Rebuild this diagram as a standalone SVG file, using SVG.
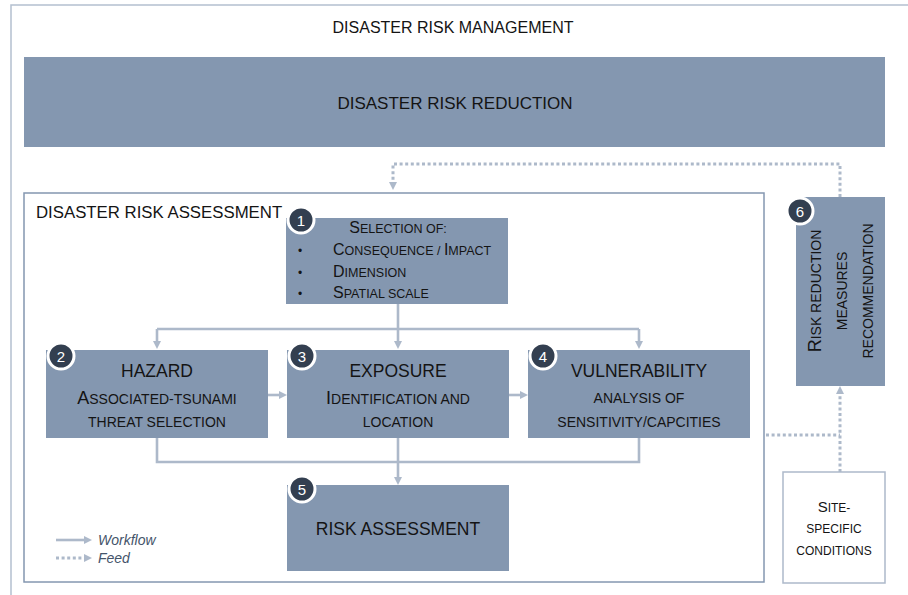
<svg xmlns="http://www.w3.org/2000/svg" width="908" height="595" viewBox="0 0 908 595">
<style>
text{font-family:"Liberation Sans",Arial,sans-serif;fill:#141414}
.node{fill:#8497B0}
.hd{font-size:17.5px}
.b{font-size:18px}
.s{font-size:14px}
.b1{font-size:16px}
.s1{font-size:12.5px}
.bs{font-size:15px}
.ss{font-size:12px}
.wf{fill:none;stroke:#ADB9CA;stroke-width:2.6}
.fd{fill:none;stroke:#ADB9CA;stroke-width:3;stroke-dasharray:3 2.6}
.badge circle{fill:#333F50;stroke:#fff;stroke-width:3}
.badge text{fill:#fff;font-size:15px;text-anchor:middle}
.leg{fill:#44546A;font-style:italic;font-size:14px}
.c{text-anchor:middle}
</style>
<defs>
<marker id="ah" markerUnits="userSpaceOnUse" markerWidth="8" markerHeight="8" viewBox="0 0 8 8" refX="3" refY="4" orient="auto">
<path d="M0,0 L8,4 L0,8 z" fill="#ADB9CA"/>
</marker>
</defs>
<rect id="frame" x="11" y="5" width="930" height="630" fill="#fff" stroke="#B4C0D0" stroke-width="1.5"/>
<text class="c" x="453" y="33" font-size="16">DISASTER RISK MANAGEMENT</text>
<g id="drr">
<rect x="24" y="57" width="861" height="90" class="node"/>
<text class="c" x="455" y="109" font-size="17">DISASTER RISK REDUCTION</text>
</g>
<g id="dra">
<rect x="24" y="193" width="740" height="389" fill="#fff" stroke="#8497B0" stroke-width="1.5"/>
<text x="36" y="218" font-size="16.8">DISASTER RISK ASSESSMENT</text>
</g>
<g id="connectors">
<path class="wf" d="M398,304 V329 M157,329 H639"/>
<path class="wf" d="M157,329 V344" marker-end="url(#ah)"/>
<path class="wf" d="M398,329 V344" marker-end="url(#ah)"/>
<path class="wf" d="M639,329 V344" marker-end="url(#ah)"/>
<path class="wf" d="M268,395 H282" marker-end="url(#ah)"/>
<path class="wf" d="M509,395 H523" marker-end="url(#ah)"/>
<path class="wf" d="M157,438 V462 H639 V438"/>
<path class="wf" d="M398,438 V480" marker-end="url(#ah)"/>
<path class="fd" d="M840,197 V164 H393 V185" marker-end="url(#ah)"/>
<path class="fd" d="M766,435 H840"/>
<path class="fd" d="M840,472 V391" marker-end="url(#ah)"/>
</g>
<g id="n1">
<rect x="286" y="218" width="222" height="86" class="node"/>
<text class="c" x="398" y="233"><tspan class="b1">S</tspan><tspan class="s1">ELECTION OF:</tspan></text>
<text x="298" y="255" font-size="12">•</text>
<text x="298" y="277" font-size="12">•</text>
<text x="298" y="298" font-size="12">•</text>
<text x="333" y="255"><tspan class="b1">C</tspan><tspan class="s1">ONSEQUENCE / </tspan><tspan class="b1">I</tspan><tspan class="s1">MPACT</tspan></text>
<text x="333" y="277"><tspan class="b1">D</tspan><tspan class="s1">IMENSION</tspan></text>
<text x="333" y="298"><tspan class="b1">S</tspan><tspan class="s1">PATIAL SCALE</tspan></text>
</g>
<g id="n2">
<rect x="46" y="350" width="222" height="88" class="node"/>
<text class="c hd" x="157" y="377">HAZARD</text>
<text class="c" x="157" y="404"><tspan class="b">A</tspan><tspan class="s">SSOCIATED-TSUNAMI</tspan></text>
<text class="c s" x="157" y="427">THREAT SELECTION</text>
</g>
<g id="n3">
<rect x="287" y="350" width="222" height="88" class="node"/>
<text class="c hd" x="398" y="377">EXPOSURE</text>
<text class="c" x="398" y="404"><tspan class="b">I</tspan><tspan class="s">DENTIFICATION AND</tspan></text>
<text class="c s" x="398" y="427">LOCATION</text>
</g>
<g id="n4">
<rect x="528" y="350" width="222" height="88" class="node"/>
<text class="c hd" x="639" y="377">VULNERABILITY</text>
<text class="c s" x="639" y="403">ANALYSIS OF</text>
<text class="c s" x="639" y="427">SENSITIVITY/CAPCITIES</text>
</g>
<g id="n5">
<rect x="287" y="485" width="222" height="86" class="node"/>
<text class="c hd" x="398" y="535">RISK ASSESSMENT</text>
</g>
<g id="n6">
<rect x="796" y="197" width="89" height="189" class="node"/>
<text class="c" transform="translate(821,291) rotate(-90)"><tspan class="b">R</tspan><tspan class="s">ISK REDUCTION</tspan></text>
<text class="c s" transform="translate(847,291) rotate(-90)">MEASURES</text>
<text class="c s" transform="translate(873,291) rotate(-90)">RECOMMENDATION</text>
</g>
<g id="site">
<rect x="783" y="472" width="102" height="111" fill="#fff" stroke="#ADB9CA" stroke-width="1.5"/>
<text class="c" x="834" y="512"><tspan class="bs">S</tspan><tspan class="ss">ITE-</tspan></text>
<text class="c ss" x="834" y="533">SPECIFIC</text>
<text class="c ss" x="834" y="555">CONDITIONS</text>
</g>
<g id="badges">
<g class="badge" id="b1"><circle cx="301" cy="220" r="13"/><text x="301" y="225.5">1</text></g>
<g class="badge" id="b2"><circle cx="61" cy="356" r="13"/><text x="61" y="361.5">2</text></g>
<g class="badge" id="b3"><circle cx="302" cy="356" r="13"/><text x="302" y="361.5">3</text></g>
<g class="badge" id="b4"><circle cx="543" cy="356" r="13"/><text x="543" y="361.5">4</text></g>
<g class="badge" id="b5"><circle cx="302" cy="489" r="13"/><text x="302" y="494.5">5</text></g>
<g class="badge" id="b6"><circle cx="800" cy="211" r="13"/><text x="800" y="216.5">6</text></g>
</g>
<g id="legend">
<path class="wf" d="M56,540 H87" marker-end="url(#ah)"/>
<path class="fd" d="M56,558 H87" marker-end="url(#ah)"/>
<text class="leg" x="98" y="545">Workflow</text>
<text class="leg" x="98" y="563">Feed</text>
</g>
</svg>
